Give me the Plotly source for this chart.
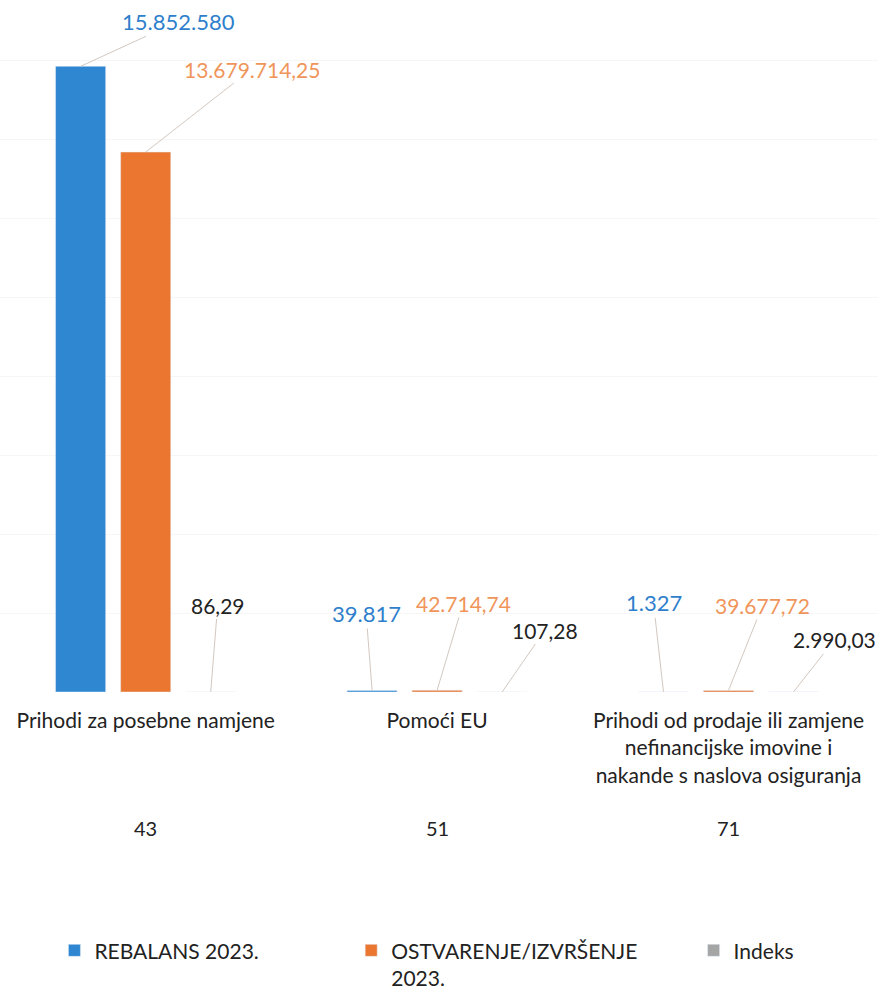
import plotly.graph_objects as go

categories = ["Prihodi za posebne namjene", "Pomoći EU",
              "Prihodi od prodaje ili zamjene<br>nefinancijske imovine i<br>nakande s naslova osiguranja"]
codes = ["43", "51", "71"]
rebalans = [15852580, 39817, 1327]
ostvarenje = [13679714.25, 42714.74, 39677.72]
indeks = [86.29, 107.28, 2990.03]
rebalans_lbl = ["15.852.580", "39.817", "1.327"]
ostvarenje_lbl = ["13.679.714,25", "42.714,74", "39.677,72"]
indeks_lbl = ["86,29", "107,28", "2.990,03"]

FONT = "Lato"
BLUE = "#2F86D1"
ORANGE = "#EA7630"
GREY = "#A5A5A5"

fig = go.Figure()
fig.add_bar(x=categories, y=rebalans, name="REBALANS 2023.", marker_color=BLUE, legend="legend")
fig.add_bar(x=categories, y=ostvarenje, name="OSTVARENJE/IZVRŠENJE<br>2023.", marker_color=ORANGE, legend="legend2")
fig.add_bar(x=categories, y=indeks, name="Indeks", marker_color=GREY, legend="legend3")

slot = 65
label_specs = [
    (rebalans, rebalans_lbl, -slot, "#2F7FCC", 22, [(98, -45), (-6, -77), (-10, -89)]),
    (ostvarenje, ostvarenje_lbl, 0, "#F0955A", 21, [(106, -83), (26, -87), (34, -85)]),
    (indeks, indeks_lbl, slot, "#222222", 21, [(7, -87), (43, -62), (41, -52)]),
]
for vals, lbls, xs, col, fs, offs in label_specs:
    for c, v, t, (ax, ay) in zip(categories, vals, lbls, offs):
        fig.add_annotation(x=c, y=v, text=t, xshift=xs, showarrow=True,
                           arrowhead=0, arrowwidth=1, arrowcolor="#D3C8C0",
                           ax=ax, ay=ay, standoff=0,
                           font=dict(family=FONT, size=fs, color=col))

for c, code in zip(categories, codes):
    fig.add_annotation(x=c, y=0, text=code, showarrow=False, yshift=-136,
                       font=dict(family=FONT, size=20, color="#222222"))

leg_common = dict(orientation="h", yanchor="top", xanchor="left", valign="top",
                  font=dict(family=FONT, size=21, color="#222222"),
                  bgcolor="rgba(0,0,0,0)")

fig.update_layout(
    width=882, height=993,
    margin=dict(l=0, r=4, t=21, b=301, autoexpand=False),
    paper_bgcolor="white", plot_bgcolor="white",
    barmode="group", bargap=0.33, bargroupgap=0.23,
    font=dict(family=FONT, size=21, color="#222222"),
    showlegend=True,
    legend=dict(x=0.062, y=-0.355, **leg_common),
    legend2=dict(x=0.40, y=-0.355, **leg_common),
    legend3=dict(x=0.79, y=-0.355, **leg_common),
    xaxis=dict(showline=False, ticks="", automargin=False, ticklabelstandoff=14,
               tickfont=dict(family=FONT, size=21, color="#222222")),
    yaxis=dict(range=[0, 17000000], dtick=2000000, showticklabels=False, automargin=False,
               showgrid=True, gridcolor="#F6F6F6", zeroline=False),
)

fig.write_html("out.html", config={"displayModeBar": False},
               post_script="document.body.style.margin='0px';")
